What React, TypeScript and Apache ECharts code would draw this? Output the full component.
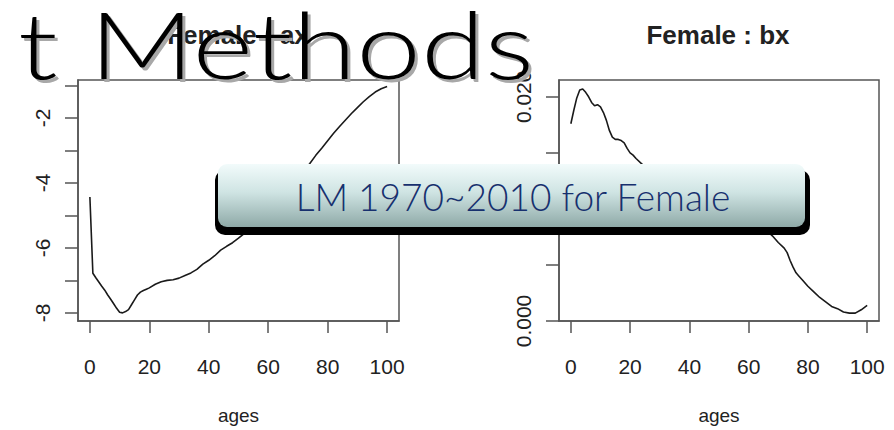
import React, { useEffect, useRef } from "react";
import * as echarts from "echarts";

// ---- data ----
const axAges = [0,1,2,3,4,5,6,7,8,9,10,11,12,13,14,15,16,17,18,19,20,22,24,26,28,30,32,34,36,38,40,42,44,46,48,50,52,54,56,58,60,62,64,66,68,70,72,74,76,78,80,82,84,86,88,90,92,94,96,98,100];
const axValues = [-4.43,-6.78,-6.92,-7.05,-7.18,-7.30,-7.45,-7.58,-7.72,-7.86,-7.98,-8.00,-7.96,-7.90,-7.75,-7.60,-7.45,-7.36,-7.31,-7.27,-7.23,-7.12,-7.04,-7.00,-6.98,-6.93,-6.85,-6.77,-6.66,-6.50,-6.38,-6.24,-6.07,-5.95,-5.84,-5.70,-5.55,-5.38,-5.20,-5.02,-4.84,-4.66,-4.47,-4.28,-4.08,-3.86,-3.63,-3.40,-3.15,-2.93,-2.70,-2.47,-2.26,-2.06,-1.86,-1.68,-1.50,-1.34,-1.20,-1.10,-1.03];

const bxAges = [0,1,2,3,4,5,6,7,8,9,10,11,12,13,14,15,16,17,18,19,20,21,22,24,26,28,30,32,34,36,38,40,42,44,46,48,50,52,54,56,58,60,62,64,66,68,70,72,73,74,75,76,77,78,80,82,84,86,88,90,92,94,96,98,100];
const bxValues = [0.0176,0.0188,0.0199,0.0206,0.0207,0.0204,0.0200,0.0195,0.0192,0.0193,0.0191,0.0186,0.0179,0.0170,0.0164,0.0162,0.0162,0.0161,0.0159,0.0154,0.0150,0.0148,0.0145,0.0140,0.0135,0.0131,0.0128,0.0124,0.0121,0.0118,0.0115,0.0112,0.0110,0.0107,0.0105,0.0103,0.0101,0.0099,0.0097,0.0095,0.0093,0.0091,0.0088,0.0085,0.0081,0.0076,0.0070,0.0065,0.0061,0.0054,0.0048,0.0043,0.0040,0.0037,0.0031,0.0026,0.0021,0.0017,0.0013,0.0011,0.0008,0.0007,0.0007,0.0010,0.0014];

const xTicks = [0, 20, 40, 60, 80, 100];
const axTicks = [-8, -7, -6, -5, -4, -3, -2, -1];
const axLabels = [-8, -6, -4, -2];
const bxTicks = [0, 0.005, 0.01, 0.015, 0.02];
const bxLabels = [0, 0.01, 0.02];

const slideTitle = "t Methods";
const buttonText = "LM 1970~2010 for Female";
const plotTitles = ["Female : ax", "Female : bx"];
const xName = "ages";

const RFONT = "'Liberation Sans', Arial, sans-serif";
const INK = "#222";
const BOX = "#555";

function xAxisCfg(gridIndex: number) {
  return {
    type: "value" as const,
    gridIndex,
    min: -4,
    max: 104,
    name: xName,
    nameLocation: "middle" as const,
    nameGap: 85,
    nameTextStyle: { fontFamily: RFONT, fontSize: 19, color: INK },
    axisLine: { show: true, onZero: false, lineStyle: { color: BOX, width: 1.5 } },
    axisTick: { show: true, length: 12, customValues: xTicks, lineStyle: { color: BOX, width: 1.5 } },
    axisLabel: { customValues: xTicks, margin: 35, fontFamily: RFONT, fontSize: 21, color: INK },
    splitLine: { show: false },
  };
}

export default function App() {
  const ref = useRef<HTMLDivElement>(null);
  useEffect(() => {
    if (!ref.current) return;
    const chart = echarts.init(ref.current, null, { renderer: "svg" });
    const grad = new echarts.graphic.LinearGradient(0, 0, 0, 1, [
      { offset: 0, color: "#f2fbfb" },
      { offset: 0.45, color: "#cfe4e3" },
      { offset: 1, color: "#8ea9a7" },
    ]);
    chart.setOption({
      animation: false,
      backgroundColor: "#ffffff",
      title: [
        { text: plotTitles[0], left: 233, top: 17, textAlign: "center", textStyle: { fontFamily: RFONT, fontSize: 26, fontWeight: "bold", color: INK } },
        { text: plotTitles[1], left: 713, top: 17, textAlign: "center", textStyle: { fontFamily: RFONT, fontSize: 26, fontWeight: "bold", color: INK } },
      ],
      grid: [
        { left: 78, top: 80, width: 321, height: 241, show: true, borderColor: BOX, borderWidth: 1.5, containLabel: false, outerBoundsMode: "none" },
        { left: 559, top: 80, width: 320, height: 241, show: true, borderColor: BOX, borderWidth: 1.5, containLabel: false, outerBoundsMode: "none" },
      ],
      xAxis: [xAxisCfg(0), xAxisCfg(1)],
      yAxis: [
        {
          type: "value", gridIndex: 0, min: -8.25, max: -0.83,
          axisLine: { show: true, onZero: false, lineStyle: { color: BOX, width: 1.5 } },
          axisTick: { show: true, length: 13, customValues: axTicks, lineStyle: { color: BOX, width: 1.5 } },
          axisLabel: { customValues: axLabels, rotate: 90, margin: 25, fontFamily: RFONT, fontSize: 21, color: INK },
          splitLine: { show: false },
        },
        {
          type: "value", gridIndex: 1, min: 0, max: 0.0215,
          axisLine: { show: true, onZero: false, lineStyle: { color: BOX, width: 1.5 } },
          axisTick: { show: true, length: 13, customValues: bxTicks, lineStyle: { color: BOX, width: 1.5 } },
          axisLabel: { customValues: bxLabels, rotate: 90, margin: 25, fontFamily: RFONT, fontSize: 21, color: INK, formatter: (v: number) => v.toFixed(3) },
          splitLine: { show: false },
        },
      ],
      series: [
        { type: "line", xAxisIndex: 0, yAxisIndex: 0, data: axAges.map((a, i) => [a, axValues[i]]), showSymbol: false, lineStyle: { color: "#1a1a1a", width: 1.6 } },
        { type: "line", xAxisIndex: 1, yAxisIndex: 1, data: bxAges.map((a, i) => [a, bxValues[i]]), showSymbol: false, lineStyle: { color: "#1a1a1a", width: 1.6 } },
      ],
      graphic: [
        { type: "text", z: 100, x: 21, y: 0, scaleX: 1.26, style: { text: slideTitle, font: "300 92px Lato, 'Open Sans', sans-serif", fill: "#a8a8a8", align: "left", verticalAlign: "top" } },
        { type: "text", z: 101, x: 18, y: -3, scaleX: 1.26, style: { text: slideTitle, font: "300 92px Lato, 'Open Sans', sans-serif", fill: "#000", align: "left", verticalAlign: "top" } },
        { type: "rect", z: 102, shape: { x: 215, y: 170, width: 595, height: 65, r: 10 }, style: { fill: "#000" } },
        { type: "rect", z: 103, shape: { x: 218, y: 164, width: 587, height: 63, r: 9 }, style: { fill: grad } },
        { type: "text", z: 104, x: 513, y: 196, scaleX: 0.975, style: { text: buttonText, font: "300 38px Lato, 'Open Sans', sans-serif", fill: "#17306e", align: "center", verticalAlign: "middle" } },
      ],
    });
    return () => chart.dispose();
  }, []);
  return <div ref={ref} style={{ position: "absolute", left: 0, top: 0, width: 894, height: 430 }} />;
}
